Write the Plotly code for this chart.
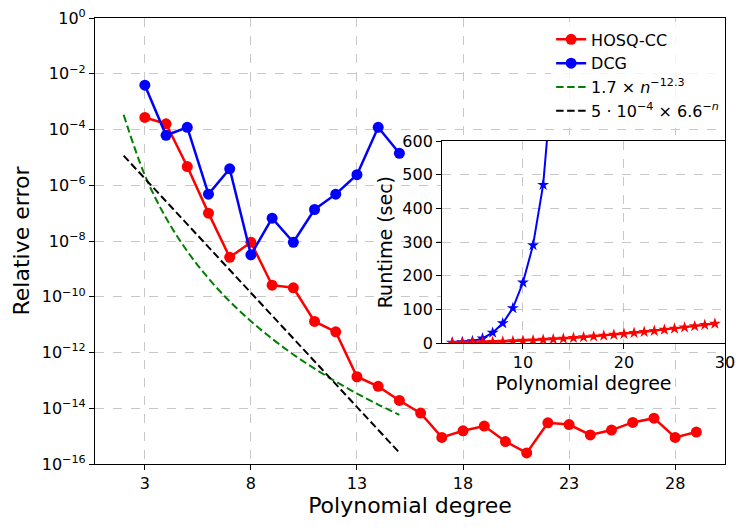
import plotly.graph_objects as go

# ---- main panel: relative error vs polynomial degree ----
deg_hosq = list(range(3, 30))
err_hosq = [2.7e-4, 1.6e-4, 4.7e-6, 1.0e-7, 2.6e-9, 9.0e-9, 2.6e-10, 2.1e-10,
            1.3e-11, 5.5e-12, 1.35e-13, 6.1e-14, 1.9e-14, 6.7e-15, 9.0e-16,
            1.55e-15, 2.3e-15, 6.4e-16, 2.5e-16, 3.0e-15, 2.6e-15, 1.1e-15,
            1.65e-15, 3.1e-15, 4.4e-15, 9.0e-16, 1.4e-15]

deg_dcg = list(range(3, 16))
err_dcg = [3.9e-3, 6.2e-5, 1.2e-4, 4.8e-7, 3.9e-6, 3.2e-9, 6.6e-8, 9.0e-9,
           1.35e-7, 4.8e-7, 2.4e-6, 1.2e-4, 1.4e-5]

deg_fit = list(range(2, 16))
fit_alg = [3.37e-4, 2.30e-6, 6.68e-8, 4.30e-9, 4.56e-10, 6.85e-11, 1.33e-11,
           3.11e-12, 8.5e-13, 2.64e-13, 9.04e-14, 3.38e-14, 1.36e-14, 5.81e-15]
fit_exp = [1.15e-5, 1.74e-6, 2.64e-7, 3.99e-8, 6.05e-9, 9.17e-10, 1.39e-10,
           2.10e-11, 3.19e-12, 4.83e-13, 7.32e-14, 1.11e-14, 1.68e-15, 2.55e-16]

# ---- inset: runtime ----
rt_deg_hosq = list(range(3, 30))
rt_hosq = [0.8, 1.2, 1.8, 2.5, 3.4, 4.4, 5.6, 7.0, 8.3, 9.9, 11.6, 13.5, 15.5,
           17.6, 19.9, 22.3, 24.9, 27.6, 30.4, 33.4, 36.5, 39.7, 43.1, 46.6,
           50.3, 54.1, 58.0]
rt_deg_dcg = list(range(3, 14))
rt_dcg = [1.5, 3, 6, 14, 31, 59, 104, 180, 291, 470, 820]

y_tickvals = [1e0, 1e-2, 1e-4, 1e-6, 1e-8, 1e-10, 1e-12, 1e-14, 1e-16]
y_ticktext = ["10<sup>0</sup>", "10<sup>−2</sup>", "10<sup>−4</sup>",
              "10<sup>−6</sup>", "10<sup>−8</sup>", "10<sup>−10</sup>",
              "10<sup>−12</sup>", "10<sup>−14</sup>", "10<sup>−16</sup>"]

font = "DejaVu Sans, Arial, sans-serif"
grid = "#c8c8c8"
mpl_dash = "7.5px,3.5px"

fig = go.Figure()

fig.add_trace(go.Scatter(x=deg_hosq, y=err_hosq, mode="lines+markers", name="HOSQ-CC",
                         line=dict(color="red", width=2.5),
                         marker=dict(color="red", size=11)))
fig.add_trace(go.Scatter(x=deg_dcg, y=err_dcg, mode="lines+markers", name="DCG",
                         line=dict(color="blue", width=2.5),
                         marker=dict(color="blue", size=11)))
fig.add_trace(go.Scatter(x=deg_fit, y=fit_alg, mode="lines",
                         name="1.7 × <i>n</i><sup>−12.3</sup>",
                         line=dict(color="green", width=2, dash=mpl_dash, shape="spline")))
fig.add_trace(go.Scatter(x=deg_fit, y=fit_exp, mode="lines",
                         name="5 · 10<sup>−4</sup> × 6.6<sup>−<i>n</i></sup>",
                         line=dict(color="black", width=2, dash=mpl_dash)))

# inset traces
fig.add_trace(go.Scatter(x=rt_deg_dcg, y=rt_dcg, mode="lines+markers", showlegend=False,
                         xaxis="x2", yaxis="y2",
                         line=dict(color="blue", width=2),
                         marker=dict(color="blue", size=9, symbol="star")))
fig.add_trace(go.Scatter(x=rt_deg_hosq, y=rt_hosq, mode="lines+markers", showlegend=False,
                         xaxis="x2", yaxis="y2",
                         line=dict(color="red", width=2),
                         marker=dict(color="red", size=9, symbol="star")))

# white patch so the main grid does not show through the inset
fig.add_shape(type="rect", xref="x2", yref="y2", x0=2, x1=30, y0=0, y1=600,
              fillcolor="white", line=dict(width=0), layer="below")

axis_style = dict(showline=True, linecolor="black", linewidth=1.2, mirror=True,
                  ticks="outside", ticklen=5, tickcolor="black",
                  showgrid=True, gridcolor=grid, griddash="dash", gridwidth=1,
                  zeroline=False, automargin=False, tickfont=dict(size=16),
                  ticklabeloverflow="allow")

# page body adds 8px offset, margins compensate for it
fig.update_layout(
    width=747, height=532,
    margin=dict(l=87, r=30, t=10, b=76),
    paper_bgcolor="white", plot_bgcolor="white",
    font=dict(family=font, size=16, color="black"),
    showlegend=True,
    legend=dict(x=0.724, y=0.99, xanchor="left", yanchor="top",
                bgcolor="rgba(255,255,255,0.8)", borderwidth=0,
                font=dict(size=16), tracegroupgap=0),
    xaxis=dict(domain=[0, 1], range=[0.65, 30.35], tick0=3, dtick=5,
               title=dict(text="Polynomial degree", font=dict(size=22), standoff=4),
               **axis_style),
    yaxis=dict(domain=[0, 1], type="log", range=[-16, 0],
               tickvals=y_tickvals, ticktext=y_ticktext,
               title=dict(text="Relative error", font=dict(size=22), standoff=6),
               **axis_style),
    xaxis2=dict(domain=[0.551, 1.0], anchor="y2", range=[2, 30],
                tickvals=[10, 20, 30],
                title=dict(text="Polynomial degree", font=dict(size=19), standoff=2),
                **axis_style),
    yaxis2=dict(domain=[0.271, 0.724], anchor="x2", range=[0, 600], dtick=100,
                title=dict(text="Runtime (sec)", font=dict(size=19), standoff=4),
                **axis_style),
)

fig.write_html("out.html")
